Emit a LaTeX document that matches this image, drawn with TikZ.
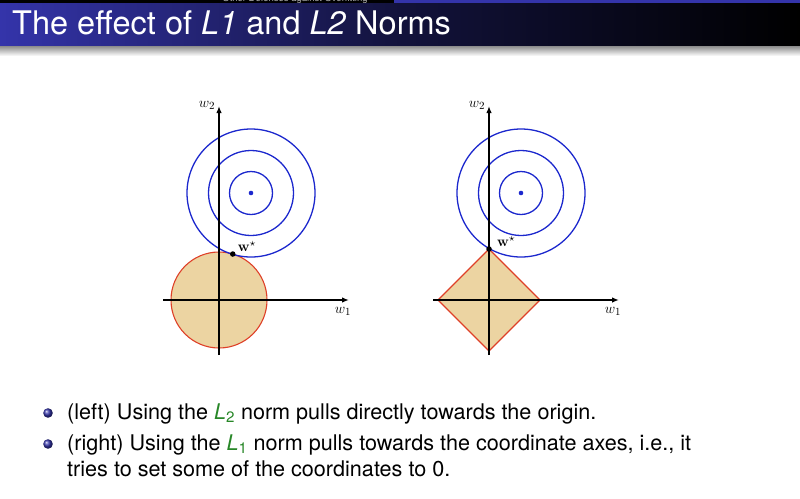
\documentclass[tikz,border=0pt]{standalone}
\usepackage{amsmath}
\usepackage{amssymb}
\usepackage[no-math]{fontspec}
\setmainfont{TeX Gyre Heros}
\usepackage{xcolor}
\usetikzlibrary{arrows.meta,positioning,calc}

\definecolor{barblue}{RGB}{52,52,170}
\definecolor{ringblue}{RGB}{28,40,205}
\definecolor{ballred}{RGB}{222,64,40}
\definecolor{ballfill}{RGB}{236,212,162}
\definecolor{normgreen}{RGB}{40,135,40}

\begin{document}
\begin{tikzpicture}[x=1pt,y=-1pt,
    axis/.style={line width=1.4pt,-{Latex[length=7pt,width=5.5pt]}},
    ring/.style={ringblue,line width=1.3pt},
    ball/.style={ballred,line width=1.1pt,fill=ballfill},
    dot/.style={circle,fill=black,inner sep=0pt,minimum size=5.5pt},
    lbl/.style={inner sep=1pt,font=\fontsize{15}{17}\selectfont},
    item/.style={anchor=base west,inner sep=0pt,font=\fontsize{21.6}{26}\selectfont}]
    \useasboundingbox (0,0) rectangle (800,498);

    % Head strip and title bar
    \fill[black] (0,0) rectangle (394,3);
    \fill[barblue] (394,0) rectangle (800,3);
    \begin{scope}
        \clip (0,0) rectangle (394,3);
        \node[anchor=base,inner sep=0pt,text=white!70!black,font=\fontsize{9.5}{10}\selectfont] (headline) at (295,1.5) {Other Defenses against Overfitting};
    \end{scope}
    \shade[left color=barblue,right color=black,middle color=barblue!35!black] (0,3) rectangle (800,46);
    \shade[top color=black!45,bottom color=white] (0,46) rectangle (800,56);
    \node[anchor=base west,inner sep=0pt,text=white,font=\fontsize{32.5}{37}\selectfont] (title) at (12,34)
        {The effect of \textit{L1} and \textit{L2} Norms};

    % Left panel: L2 ball
    \coordinate (oL) at (219,300);
    \coordinate (cL) at (251,193);
    \draw[ball] (oL) circle (48);
    \foreach \r in {21.5,42.5,64}
        \draw[ring] (cL) circle (\r);
    \fill[ringblue] (cL) circle (2.3);
    \coordinate (xL0) at (163,300);
    \coordinate (xL1) at (349,300);
    \coordinate (yL0) at (219,355);
    \coordinate (yL1) at (219,106);
    \draw[axis] (xL0) -- (xL1);
    \draw[axis] (yL0) -- (yL1);
    \node[lbl] (w2L) at (207,105) {$w_2$};
    \node[lbl] (w1L) at (343,311) {$w_1$};
    \node[dot] (wL) at ($(oL)!48pt!(cL)$) {};
    \node[lbl,anchor=south west] (wsL) at ($(wL)+(4,-1)$) {$\mathbf{w}^\star$};

    % Right panel: L1 ball
    \coordinate (oR) at (489,300);
    \coordinate (cR) at (521,193);
    \draw[ball] (oR) ++(0,-51) -- ++(51,51) -- ++(-51,51) -- ++(-51,-51) -- cycle;
    \foreach \r in {21.5,42.5,64}
        \draw[ring] (cR) circle (\r);
    \fill[ringblue] (cR) circle (2.3);
    \coordinate (xR0) at (433,300);
    \coordinate (xR1) at (619,300);
    \coordinate (yR0) at (489,355);
    \coordinate (yR1) at (489,106);
    \draw[axis] (xR0) -- (xR1);
    \draw[axis] (yR0) -- (yR1);
    \node[lbl] (w2R) at (477,105) {$w_2$};
    \node[lbl] (w1R) at (613,311) {$w_1$};
    \node[dot] (wR) at ($(oR)+(0,-51)$) {};
    \node[lbl,anchor=south west] (wsR) at ($(wR)+(7,-1)$) {$\mathbf{w}^\star$};

    % Bullets
    \shade[ball color=barblue] (48,413) circle (4.8);
    \shade[ball color=barblue] (48,444) circle (4.8);
    \node[item] (itemA) at (67,419)
        {(left) Using the \textcolor{normgreen}{\textit{L}\textsubscript{2}} norm pulls directly towards the origin.};
    \node[item] (itemB) at (67,450)
        {(right) Using the \textcolor{normgreen}{\textit{L}\textsubscript{1}} norm pulls towards the coordinate axes, i.e., it};
    \node[item] (itemC) at (67,476)
        {tries to set some of the coordinates to 0.};
\end{tikzpicture}
\end{document}
